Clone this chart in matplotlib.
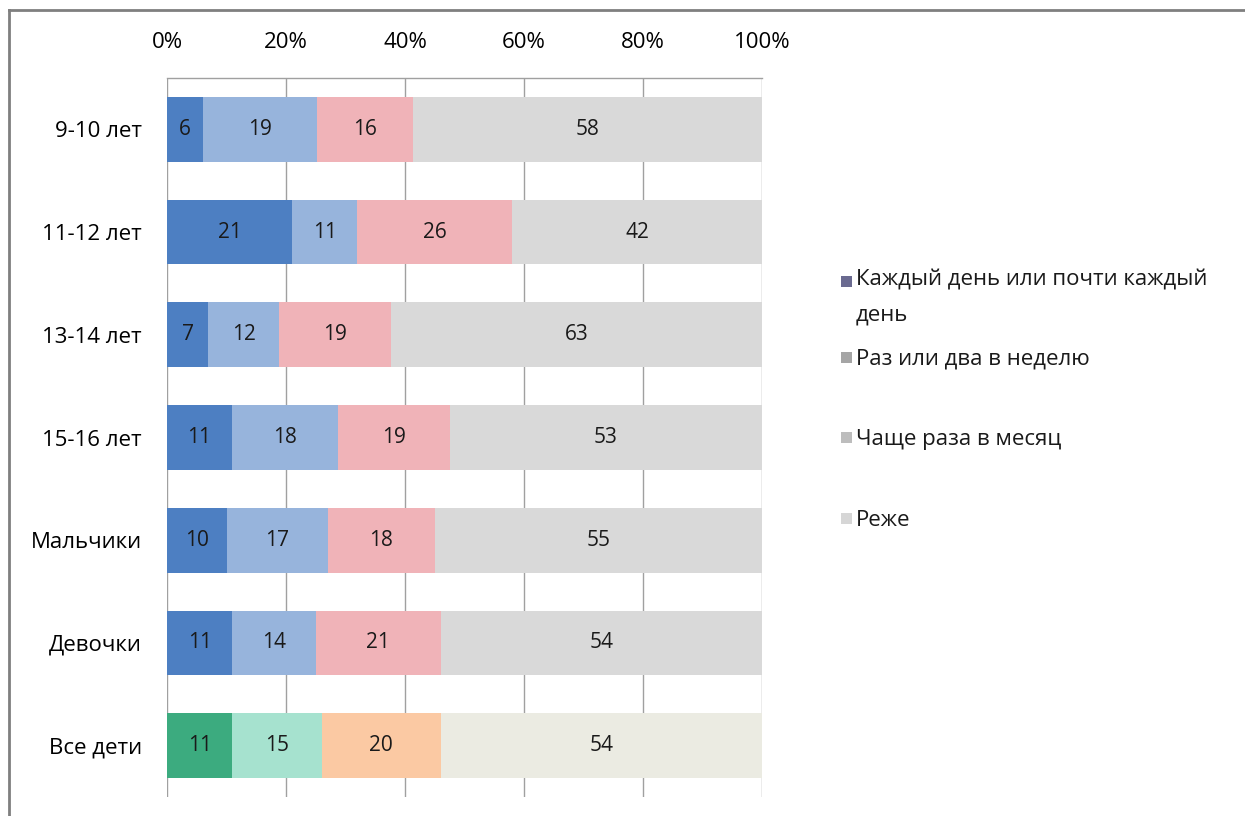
import matplotlib
matplotlib.use("Agg")
import matplotlib.pyplot as plt
from matplotlib.patches import Rectangle
from matplotlib.lines import Line2D
import numpy as np

plt.rcParams['font.family'] = ['Open Sans', 'DejaVu Sans']

categories = ["9-10 лет", "11-12 лет", "13-14 лет", "15-16 лет", "Мальчики", "Девочки", "Все дети"]
series_names = ["Каждый день или почти каждый\nдень", "Раз или два в неделю", "Чаще раза в месяц", "Реже"]
daily = [6, 21, 7, 11, 10, 11, 11]
weekly = [19, 11, 12, 18, 17, 14, 15]
monthly = [16, 26, 19, 19, 18, 21, 20]
rarely = [58, 42, 63, 53, 55, 54, 54]
tick_values = [0, 20, 40, 60, 80, 100]
tick_labels = ["0%", "20%", "40%", "60%", "80%", "100%"]

colors_main = ["#4d7fc2", "#97b4dc", "#f0b3b8", "#d9d9d9"]
colors_last = ["#3cab7f", "#a6e2cf", "#fbc9a3", "#ebebe2"]
legend_colors = ["#6a6a90", "#a5a5a5", "#bdbdbd", "#d6d6d6"]

fig = plt.figure(figsize=(12.45, 8.16), dpi=100)
ax = fig.add_axes([167/1245, 1-797/816, (762-167)/1245, (797-78)/816])

data = np.array([daily, weekly, monthly, rarely], dtype=float)
totals = data.sum(axis=0)
pct = data / totals * 100
y = np.arange(len(categories))
left = np.zeros(len(categories))
for i in range(4):
    cols = [colors_main[i]] * (len(categories) - 1) + [colors_last[i]]
    ax.barh(y, pct[i], left=left, height=0.63, color=cols, edgecolor='none', zorder=2)
    for j in range(len(categories)):
        ax.text(left[j] + pct[i][j] / 2, y[j], f"{int(data[i][j])}", ha='center', va='center',
                fontsize=15, color='#1a1a1a', zorder=3)
    left += pct[i]

ax.set_xlim(0, 100)
ax.set_ylim(len(categories) - 0.5, -0.5)
ax.set_xticks(tick_values)
ax.set_xticklabels(tick_labels)
ax.xaxis.tick_top()
ax.tick_params(axis='x', length=0, pad=18, labelsize=16)
ax.set_yticks(y)
ax.set_yticklabels(categories)
ax.tick_params(axis='y', length=0, pad=18, labelsize=16)
ax.grid(axis='x', color='#a0a0a0', linewidth=1, zorder=0)
ax.set_axisbelow(True)
for s in ['right', 'bottom', 'left']:
    ax.spines[s].set_visible(False)
ax.spines['top'].set_color('#a0a0a0')
ax.spines['top'].set_linewidth(1)

# legend (manual)
leg_y = [283, 359, 439, 520]
for name, c, yy in zip(series_names, legend_colors, leg_y):
    fig.add_artist(Rectangle((841/1245, 1-(yy+4)/816), 11/1245, 11/816, transform=fig.transFigure,
                             facecolor=c, edgecolor='none'))
    if '\n' in name:
        fig.text(856/1245, 1-(yy-13)/816, name, ha='left', va='top', fontsize=16,
                 color='#1a1a1a', linespacing=1.85)
    else:
        fig.text(856/1245, 1-yy/816, name, ha='left', va='center', fontsize=16, color='#1a1a1a')

# outer frame
fig.add_artist(Line2D([9/1245, 1], [1-10/816, 1-10/816], color='#7f7f7f', linewidth=2, transform=fig.transFigure))
fig.add_artist(Line2D([9/1245, 9/1245], [0, 1-10/816], color='#7f7f7f', linewidth=2, transform=fig.transFigure))

fig.savefig("out.png", dpi=100)
